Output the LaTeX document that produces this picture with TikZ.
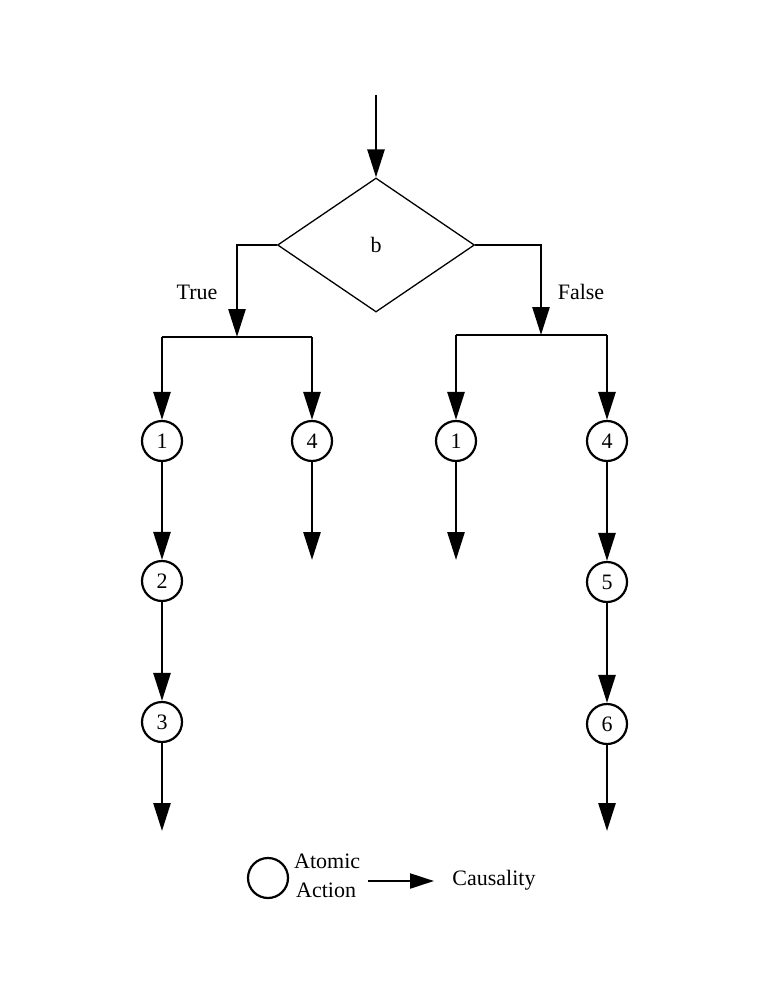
\documentclass[tikz,border=0pt]{standalone}
\usepackage{fontspec}
\setmainfont{Liberation Serif}
\usetikzlibrary{arrows.meta,shapes.geometric}
\begin{document}
\begin{tikzpicture}[x=1pt,y=-1pt,
  conn/.style={line width=2.7pt,-{Triangle[length=28pt,width=17pt]}},
  plain/.style={line width=2.7pt},
  act/.style={circle,draw,line width=2.2pt,minimum size=40pt,inner sep=0pt,font=\fontsize{22}{24}\selectfont},
  lbl/.style={font=\fontsize{22}{24}\selectfont,inner sep=0pt},
  cond/.style={diamond,draw,line width=1.3pt,minimum width=197pt,minimum height=134pt,inner sep=0pt,font=\fontsize{22}{24}\selectfont}]
\useasboundingbox (0,0) rectangle (772,1000);
% start
\coordinate (start) at (376,95);
\node[cond] (b) at (376,245) {b};
\draw[conn] (start) -- (b.north);
% branch points
\coordinate (tl) at (237,245);
\coordinate (tj) at (237,337);
\coordinate (fr) at (541,245);
\coordinate (fj) at (541,335);
\draw[conn] (b.west) -- (tl) -- (tj);
\draw[conn] (b.east) -- (fr) -- (fj);
\node[lbl] (true) at (197,292) {True};
\node[lbl] (false) at (581,292) {False};
% actions
\node[act] (t1) at (162,441) {1};
\node[act] (t4) at (312,441) {4};
\node[act] (f1) at (456,441) {1};
\node[act] (f4) at (607,441) {4};
\node[act] (t2) at (162,581) {2};
\node[act] (t3) at (162,722) {3};
\node[act] (f5) at (607,582) {5};
\node[act] (f6) at (607,724) {6};
% bars
\coordinate (tbl) at (162,337);
\coordinate (tbr) at (312,337);
\coordinate (fbl) at (456,335);
\coordinate (fbr) at (607,335);
\draw[plain] (tbl) -- (tbr);
\draw[plain] (fbl) -- (fbr);
\draw[conn] (tbl) -- (t1.north);
\draw[conn] (tbr) -- (t4.north);
\draw[conn] (fbl) -- (f1.north);
\draw[conn] (fbr) -- (f4.north);
% chains
\coordinate (t4e) at (312,560);
\coordinate (f1e) at (456,560);
\coordinate (t3e) at (162,831);
\coordinate (f6e) at (607,831);
\draw[conn] (t1) -- (t2);
\draw[conn] (t2) -- (t3);
\draw[conn] (t3) -- (t3e);
\draw[conn] (t4) -- (t4e);
\draw[conn] (f1) -- (f1e);
\draw[conn] (f4) -- (f5);
\draw[conn] (f5) -- (f6);
\draw[conn] (f6) -- (f6e);
% legend
\node[act] (lc) at (268,878) {};
\node[lbl,anchor=west] (la1) at (294,861) {Atomic};
\node[lbl,anchor=west] (la2) at (296,890) {Action};
\coordinate (ls) at (368,881);
\coordinate (le) at (434,881);
\draw[line width=2.2pt,-{Triangle[length=24pt,width=15pt]}] (ls) -- (le);
\node[lbl] (lcaus) at (494,880) {Causality};
\end{tikzpicture}
\end{document}
